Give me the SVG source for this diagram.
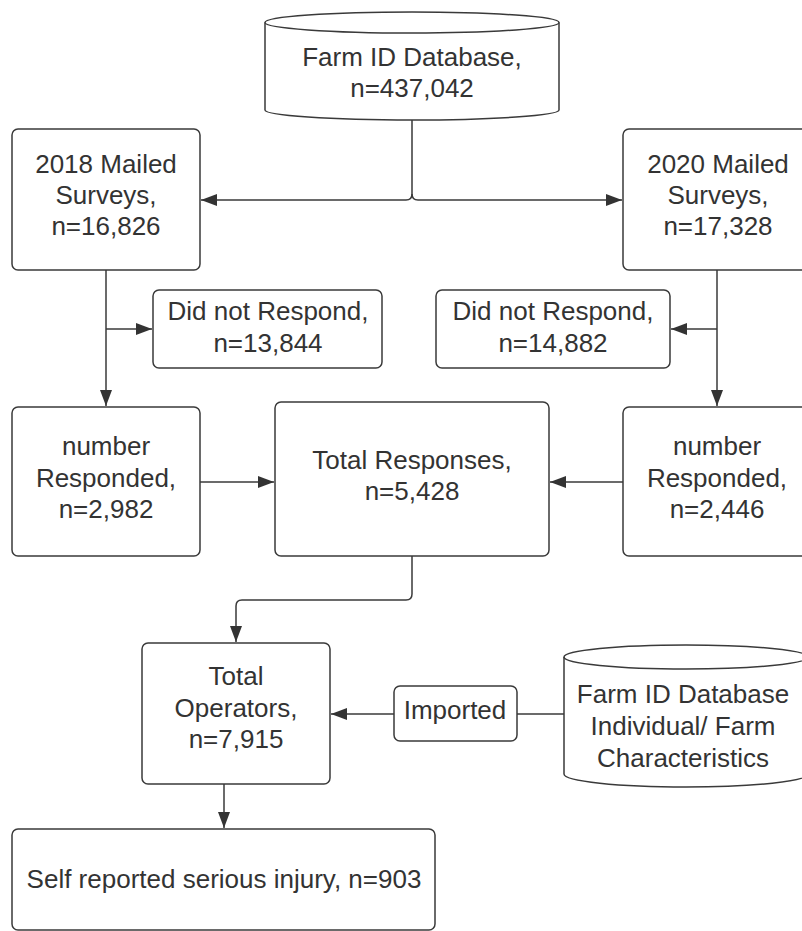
<svg xmlns="http://www.w3.org/2000/svg" width="802" height="931" viewBox="0 0 802 931">
<defs>
<marker id="arr" markerUnits="userSpaceOnUse" markerWidth="17" markerHeight="13" refX="16" refY="6" orient="auto">
<path d="M0,0 L16,6 L0,12 Z" fill="#333"/>
</marker>
<style>
.box{fill:#fff;stroke:#3a3a3a;stroke-width:1.5}
.ln{fill:none;stroke:#3a3a3a;stroke-width:1.5}
.t{font-family:"Liberation Sans",Arial,sans-serif;font-size:26px;fill:#333;text-anchor:middle}
</style>
</defs>
<rect width="802" height="931" fill="#fff"/>
<g id="connectors">
<path class="ln" d="M412,120 V194 Q412,200 406,200 H201" marker-end="url(#arr)"/>
<path class="ln" d="M412,194 Q412,200 418,200 H622" marker-end="url(#arr)"/>
<path class="ln" d="M106,270 V406" marker-end="url(#arr)"/>
<path class="ln" d="M106,329 H152" marker-end="url(#arr)"/>
<path class="ln" d="M717,270 V406" marker-end="url(#arr)"/>
<path class="ln" d="M717,329 H671" marker-end="url(#arr)"/>
<path class="ln" d="M200,482 H274" marker-end="url(#arr)"/>
<path class="ln" d="M623,482 H550" marker-end="url(#arr)"/>
<path class="ln" d="M412,556 V594 Q412,600 406,600 H242 Q236,600 236,606 V642" marker-end="url(#arr)"/>
<path class="ln" d="M564,714 H517"/>
<path class="ln" d="M394,714 H331" marker-end="url(#arr)"/>
<path class="ln" d="M224,784 V828" marker-end="url(#arr)"/>
</g>
<g id="db-top">
<path class="box" d="M265,22.5 A147,10.5 0 0 1 559,22.5 V110 A147,10 0 0 1 265,110 Z"/>
<path class="ln" d="M265,22.5 A147,10.5 0 0 0 559,22.5"/>
<text class="t" x="412" y="66">Farm ID Database,</text>
<text class="t" x="412" y="97">n=437,042</text>
</g>
<g id="mailed-2018">
<rect class="box" x="12" y="129" width="188" height="141" rx="6"/>
<text class="t" x="106" y="173">2018 Mailed</text>
<text class="t" x="106" y="204">Surveys,</text>
<text class="t" x="106" y="235">n=16,826</text>
</g>
<g id="mailed-2020">
<rect class="box" x="623" y="129" width="190" height="141" rx="6"/>
<text class="t" x="718" y="173">2020 Mailed</text>
<text class="t" x="718" y="204">Surveys,</text>
<text class="t" x="718" y="235">n=17,328</text>
</g>
<g id="norespond-2018">
<rect class="box" x="153" y="290" width="229" height="78" rx="6"/>
<text class="t" x="268" y="320">Did not Respond,</text>
<text class="t" x="268" y="352">n=13,844</text>
</g>
<g id="norespond-2020">
<rect class="box" x="436" y="290" width="234" height="78" rx="6"/>
<text class="t" x="553" y="320">Did not Respond,</text>
<text class="t" x="553" y="352">n=14,882</text>
</g>
<g id="responded-2018">
<rect class="box" x="12" y="407" width="188" height="149" rx="6"/>
<text class="t" x="106" y="455">number</text>
<text class="t" x="106" y="487">Responded,</text>
<text class="t" x="106" y="518">n=2,982</text>
</g>
<g id="total-responses">
<rect class="box" x="275" y="402" width="274" height="154" rx="6"/>
<text class="t" x="412" y="469">Total Responses,</text>
<text class="t" x="412" y="500">n=5,428</text>
</g>
<g id="responded-2020">
<rect class="box" x="623" y="407" width="190" height="149" rx="6"/>
<text class="t" x="717" y="455">number</text>
<text class="t" x="717" y="487">Responded,</text>
<text class="t" x="717" y="518">n=2,446</text>
</g>
<g id="total-operators">
<rect class="box" x="142" y="643" width="188" height="141" rx="6"/>
<text class="t" x="236" y="685">Total</text>
<text class="t" x="236" y="717">Operators,</text>
<text class="t" x="236" y="748">n=7,915</text>
</g>
<g id="imported">
<rect class="box" x="394" y="686" width="123" height="55" rx="6"/>
<text class="t" x="455" y="719">Imported</text>
</g>
<g id="db-bottom">
<path class="box" d="M564,657 A122,12 0 0 1 808,657 V774 A122,13 0 0 1 564,774 Z"/>
<path class="ln" d="M564,657 A122,12 0 0 0 808,657"/>
<text class="t" x="683" y="703">Farm ID Database</text>
<text class="t" x="683" y="735">Individual/ Farm</text>
<text class="t" x="683" y="767">Characteristics</text>
</g>
<g id="injury">
<rect class="box" x="12" y="829" width="423" height="101" rx="6"/>
<text class="t" x="224" y="888">Self reported serious injury, n=903</text>
</g>
</svg>
